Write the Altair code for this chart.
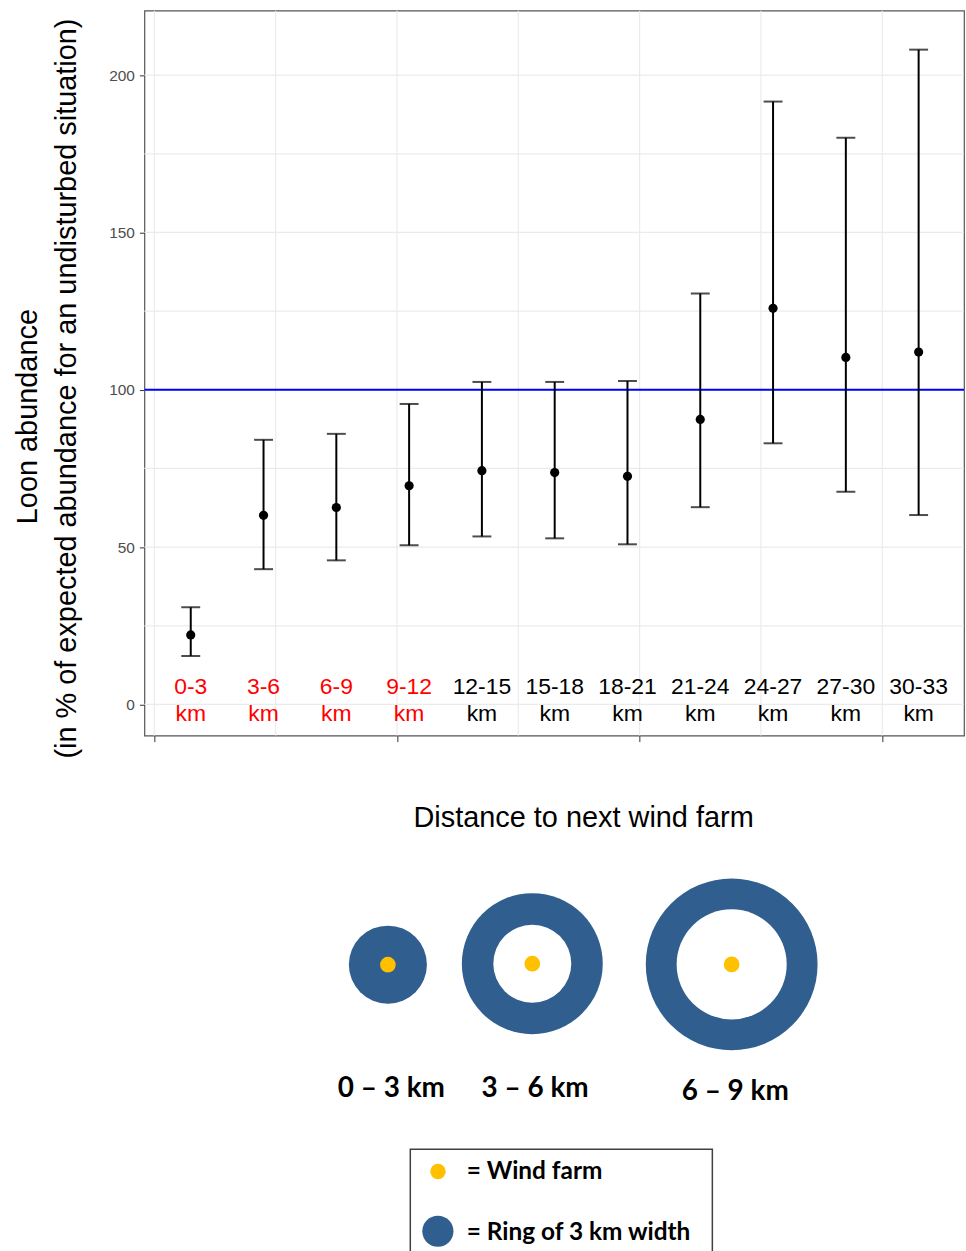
import altair as alt
import pandas as pd

# ---------------- main plot data ----------------
categories = ["0-3", "3-6", "6-9", "9-12", "12-15", "15-18", "18-21",
              "21-24", "24-27", "27-30", "30-33"]
midpoints = [1.5, 4.5, 7.5, 10.5, 13.5, 16.5, 19.5, 22.5, 25.5, 28.5, 31.5]
estimate = [22.1, 60.1, 62.6, 69.5, 74.3, 73.7, 72.5, 90.6, 125.9, 110.3, 112.0]
lower = [15.4, 43.0, 45.8, 50.6, 53.4, 52.8, 50.9, 62.7, 83.0, 67.6, 60.2]
upper = [30.9, 84.1, 86.0, 95.5, 102.5, 102.5, 102.8, 130.6, 191.6, 180.1, 208.1]
label_colors = ["#FF0000"] * 4 + ["#000000"] * 7
reference_level = [100]
y_ticks = [0, 50, 100, 150, 200]
x_ticks = [0, 10, 20, 30]
grid_x = [0, 5, 10, 15, 20, 25, 30]
grid_y = [0, 25, 50, 75, 100, 125, 150, 175, 200]

df = pd.DataFrame({
    "cat": categories,
    "mid": midpoints,
    "est": estimate,
    "lo": lower,
    "hi": upper,
    "col": label_colors,
})
df["label"] = df["cat"] + "\nkm"

X_DOMAIN = [-0.41, 33.37]
Y_DOMAIN = [-9.9, 220.5]
LABEL_LEVEL = 5.5
xs = alt.Scale(domain=X_DOMAIN, nice=False, zero=False)
ys = alt.Scale(domain=Y_DOMAIN, nice=False, zero=False)

nbsp = "\u00a0"
x_axis = alt.Axis(values=x_ticks, labels=False, grid=False, domain=False,
                  ticks=True, tickSize=6, tickColor="#333333", title=None)
y_axis = alt.Axis(values=y_ticks, grid=False, domain=False, tickSize=5,
                  tickColor="#333333", labelColor="#4D4D4D", labelFontSize=15.5,
                  labelFont="Liberation Sans", labelPadding=5,
                  title=["Loon abundance" + nbsp * 7 + "\u200b",
                         "(in % of expected abundance for an undisturbed situation)"],
                  titleFont="Liberation Sans", titleFontSize=29,
                  titleFontWeight="normal", titleColor="#000000",
                  titleLineHeight=39, titleAngle=270, titleAlign="center",
                  titleBaseline="top", titleX=-131, titleY=379)

gx = alt.Chart(pd.DataFrame({"g": grid_x})).mark_rule(
    color="#EBEBEB", strokeWidth=1.2).encode(
    x=alt.X("g:Q", scale=xs, axis=x_axis))
gy = alt.Chart(pd.DataFrame({"g": grid_y})).mark_rule(
    color="#EBEBEB", strokeWidth=1.2).encode(
    y=alt.Y("g:Q", scale=ys, axis=y_axis))
ref = alt.Chart(pd.DataFrame({"r": reference_level})).mark_rule(
    color="#0000FF", strokeWidth=2).encode(
    y=alt.Y("r:Q", scale=ys, axis=y_axis))

base = alt.Chart(df)
bars = base.mark_rule(color="#000000", strokeWidth=2).encode(
    x=alt.X("mid:Q", scale=xs, axis=x_axis),
    y=alt.Y("lo:Q", scale=ys, axis=y_axis),
    y2="hi:Q")
cap_lo = base.mark_tick(color="#000000", orient="horizontal", size=19,
                        thickness=2).encode(
    x=alt.X("mid:Q", scale=xs, axis=x_axis),
    y=alt.Y("lo:Q", scale=ys, axis=y_axis))
cap_hi = base.mark_tick(color="#000000", orient="horizontal", size=19,
                        thickness=2).encode(
    x=alt.X("mid:Q", scale=xs, axis=x_axis),
    y=alt.Y("hi:Q", scale=ys, axis=y_axis))
pts = base.mark_circle(color="#000000", size=85, opacity=1).encode(
    x=alt.X("mid:Q", scale=xs, axis=x_axis),
    y=alt.Y("est:Q", scale=ys, axis=y_axis))
labels = base.mark_text(font="Liberation Sans", fontSize=23, lineBreak="\n",
                        lineHeight=27, baseline="middle", align="center").encode(
    x=alt.X("mid:Q", scale=xs, axis=x_axis),
    y=alt.Y(datum=LABEL_LEVEL, scale=ys, axis=y_axis),
    text="label:N",
    color=alt.Color("col:N", scale=None))

top = alt.layer(gx, gy, ref, bars, cap_lo, cap_hi, pts, labels).properties(
    width=823, height=728,
    view=alt.ViewBackground(stroke="#555555", strokeWidth=1.2))

# ---------------- illustration data ----------------
ring_labels = ["0 – 3 km", "3 – 6 km", "6 – 9 km"]
ring_center_x = [387.5, 532.5, 732.7]
ring_center_y = [964.0, 963.0, 963.7]
ring_outer_diam = [78.4, 141.5, 172.5]
ring_inner_diam = [0.0, 78.3, 110.5]
ring_label_x = [391.0, 535.3, 736.3]
ring_label_y = [1097.0, 1097.0, 1100.0]
farm_dot_diam = 15.7

title_text = ["Distance to next wind farm"]
title_pos = [584.0, 826.0]

legend_box = [410.0, 1149.3, 713.3, 1280.0]
legend_texts = ["= Wind farm", "= Ring of 3 km width"]
legend_text_x = [466.7, 466.7]
legend_text_y = [1179.3, 1240.0]
legend_sym_x = [437.8, 437.7]
legend_sym_y = [1171.7, 1231.7]
legend_sym_diam = [15.5, 31.3]
legend_sym_color = ["#FFC000", "#2F5E8F"]

BX = [143, 966]
BY = [758, 1288]
bxs = alt.Scale(domain=BX, nice=False, zero=False)
bys = alt.Scale(domain=BY, nice=False, zero=False, reverse=True)

rings = pd.DataFrame({
    "x": ring_center_x, "y": ring_center_y,
    "outer": [d * d for d in ring_outer_diam],
    "inner": [d * d for d in ring_inner_diam],
    "dot": [farm_dot_diam ** 2] * 3,
    "lab": ring_labels, "lx": ring_label_x, "ly": ring_label_y,
})
rb = alt.Chart(rings)
outer = rb.mark_circle(color="#2F5E8F", opacity=1).encode(
    x=alt.X("x:Q", scale=bxs, axis=None), y=alt.Y("y:Q", scale=bys, axis=None),
    size=alt.Size("outer:Q", scale=None))
inner = rb.mark_circle(color="#FFFFFF", opacity=1).encode(
    x=alt.X("x:Q", scale=bxs, axis=None), y=alt.Y("y:Q", scale=bys, axis=None),
    size=alt.Size("inner:Q", scale=None))
dots = rb.mark_circle(color="#FFC000", opacity=1).encode(
    x=alt.X("x:Q", scale=bxs, axis=None), y=alt.Y("y:Q", scale=bys, axis=None),
    size=alt.Size("dot:Q", scale=None))
rlab = rb.mark_text(font="Lato", fontWeight="bold", fontSize=28, color="#000000",
                    align="center", baseline="alphabetic").encode(
    x=alt.X("lx:Q", scale=bxs, axis=None), y=alt.Y("ly:Q", scale=bys, axis=None),
    text="lab:N")

ttl = alt.Chart(pd.DataFrame({"t": title_text, "x": [title_pos[0]], "y": [title_pos[1]]})).mark_text(
    font="Liberation Sans", fontSize=29, color="#000000", align="center",
    baseline="alphabetic").encode(
    x=alt.X("x:Q", scale=bxs, axis=None), y=alt.Y("y:Q", scale=bys, axis=None),
    text="t:N")

box = alt.Chart(pd.DataFrame({"x1": [legend_box[0]], "y1": [legend_box[1]],
                              "x2": [legend_box[2]], "y2": [legend_box[3]]})).mark_rect(
    fill="#FFFFFF", stroke="#404040", strokeWidth=1.5).encode(
    x=alt.X("x1:Q", scale=bxs, axis=None), x2="x2:Q",
    y=alt.Y("y1:Q", scale=bys, axis=None), y2="y2:Q")

leg = pd.DataFrame({"t": legend_texts, "tx": legend_text_x, "ty": legend_text_y,
                    "sx": legend_sym_x, "sy": legend_sym_y,
                    "ss": [d * d for d in legend_sym_diam], "sc": legend_sym_color})
lb = alt.Chart(leg)
lsym = lb.mark_circle(opacity=1).encode(
    x=alt.X("sx:Q", scale=bxs, axis=None), y=alt.Y("sy:Q", scale=bys, axis=None),
    size=alt.Size("ss:Q", scale=None), color=alt.Color("sc:N", scale=None))
ltxt = lb.mark_text(font="Lato", fontWeight="bold", fontSize=24.5, color="#000000",
                    align="left", baseline="alphabetic").encode(
    x=alt.X("tx:Q", scale=bxs, axis=None), y=alt.Y("ty:Q", scale=bys, axis=None),
    text="t:N")

bottom = alt.layer(ttl, outer, inner, dots, rlab, box, lsym, ltxt).properties(
    width=823, height=530,
    view=alt.ViewBackground(strokeOpacity=0))

chart = alt.vconcat(top, bottom, spacing=0).properties(
    padding={"left": 13, "top": 6, "right": 0, "bottom": 0},
    background="#FFFFFF")

chart.save("out.html", embed_options={"renderer": "svg", "actions": False})
